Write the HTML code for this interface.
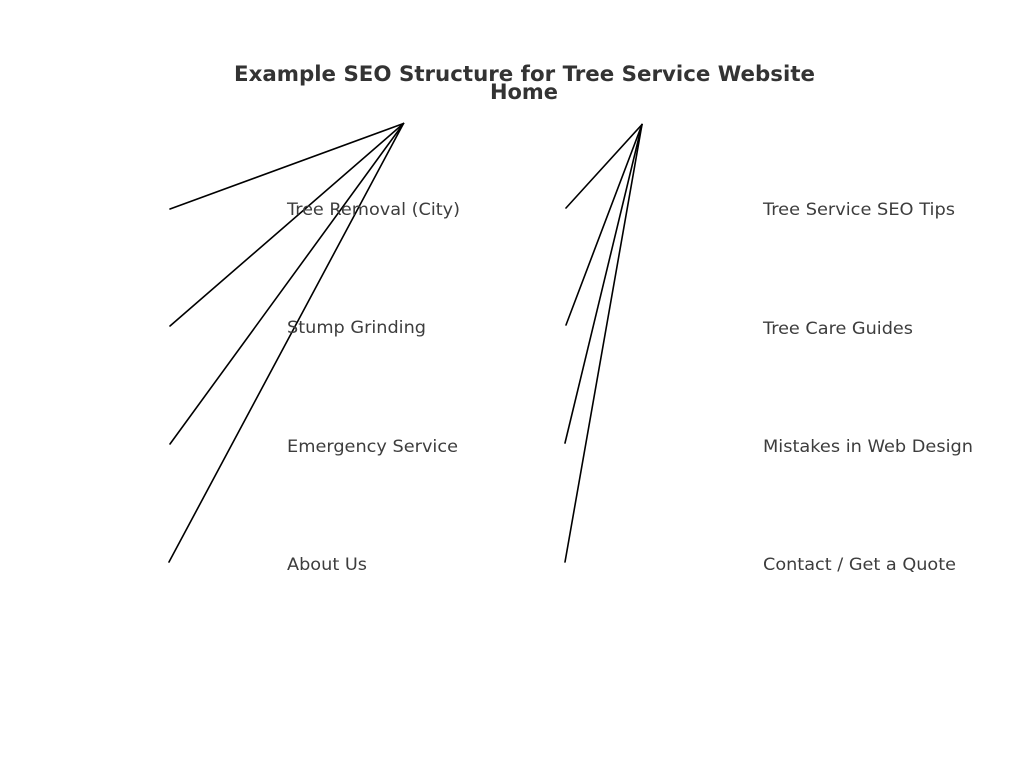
<!DOCTYPE html>
<html>
<head>
<meta charset="utf-8">
<style>
  html, body { margin:0; padding:0; background:#fff; }
  svg { display:block; }
  .lbl { font-family: "DejaVu Sans", "Liberation Sans", sans-serif; font-size:17px; fill:#3d3d3d; }
  .ttl { font-family: "DejaVu Sans", "Liberation Sans", sans-serif; font-size:21px; font-weight:bold; fill:#333; }
</style>
</head>
<body>
<svg width="1024" height="768" viewBox="0 0 1024 768" xmlns="http://www.w3.org/2000/svg">
  <rect width="1024" height="768" fill="#fff"/>
  <g stroke="#000" stroke-width="1.6" fill="none" stroke-linecap="round">
    <line x1="403.5" y1="123.5" x2="170" y2="209"/>
    <line x1="403.5" y1="123.5" x2="170" y2="326"/>
    <line x1="403.5" y1="123.5" x2="170" y2="444"/>
    <line x1="403.5" y1="123.5" x2="169" y2="562"/>
    <line x1="642" y1="124.5" x2="566" y2="208"/>
    <line x1="642" y1="124.5" x2="566" y2="325"/>
    <line x1="642" y1="124.5" x2="565" y2="443"/>
    <line x1="642" y1="124.5" x2="565" y2="562"/>
  </g>
  <text class="ttl" x="234" y="81" textLength="581" lengthAdjust="spacingAndGlyphs">Example SEO Structure for Tree Service Website</text>
  <text class="ttl" x="490" y="99" textLength="68" lengthAdjust="spacingAndGlyphs">Home</text>

  <text class="lbl" x="287" y="215" textLength="173" lengthAdjust="spacingAndGlyphs">Tree Removal (City)</text>
  <text class="lbl" x="287" y="333" textLength="139" lengthAdjust="spacingAndGlyphs">Stump Grinding</text>
  <text class="lbl" x="287" y="452" textLength="171" lengthAdjust="spacingAndGlyphs">Emergency Service</text>
  <text class="lbl" x="287" y="570" textLength="80" lengthAdjust="spacingAndGlyphs">About Us</text>

  <text class="lbl" x="763" y="215" textLength="192" lengthAdjust="spacingAndGlyphs">Tree Service SEO Tips</text>
  <text class="lbl" x="763" y="334" textLength="150" lengthAdjust="spacingAndGlyphs">Tree Care Guides</text>
  <text class="lbl" x="763" y="452" textLength="210" lengthAdjust="spacingAndGlyphs">Mistakes in Web Design</text>
  <text class="lbl" x="763" y="570" textLength="193" lengthAdjust="spacingAndGlyphs">Contact / Get a Quote</text>
</svg>
</body>
</html>
